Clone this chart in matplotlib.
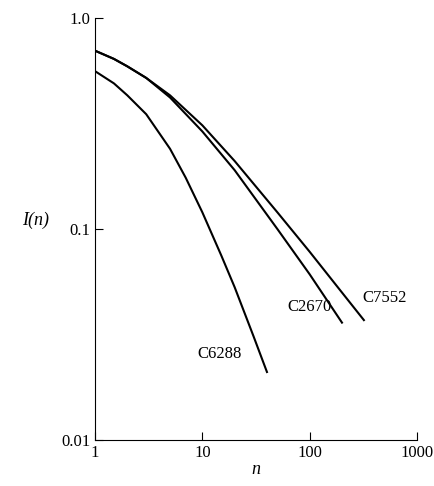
import numpy as np
import matplotlib.pyplot as plt

plt.rcParams['font.family'] = 'Liberation Serif'

n_6288 = [1, 1.5, 2, 3, 5, 7, 10, 15, 20, 30, 40]
i_6288 = [0.56, 0.49, 0.43, 0.35, 0.24, 0.175, 0.12, 0.075, 0.053, 0.031, 0.021]
n_2670 = [1, 1.5, 2, 3, 5, 10, 20, 50, 100, 200]
i_2670 = [0.70, 0.64, 0.59, 0.52, 0.42, 0.29, 0.19, 0.10, 0.061, 0.036]
n_7552 = [1, 1.5, 2, 3, 5, 10, 20, 50, 100, 200, 320]
i_7552 = [0.70, 0.64, 0.59, 0.52, 0.43, 0.31, 0.21, 0.12, 0.078, 0.05, 0.037]

fig = plt.figure(figsize=(4.34, 4.86), dpi=100)
ax = fig.add_axes([95/434, 46/486, 322/434, 422/486])
for n, i in [(n_6288, i_6288), (n_2670, i_2670), (n_7552, i_7552)]:
    ax.plot(n, i, color='black', lw=1.5)
ax.set_xscale('log')
ax.set_yscale('log')
ax.set_xlim(1, 1000)
ax.set_ylim(0.01, 1.0)
ax.set_xticks([1, 10, 100, 1000])
ax.set_xticklabels(['1', '10', '100', '1000'])
ax.set_yticks([0.01, 0.1, 1.0])
ax.set_yticklabels(['0.01', '0.1', '1.0'])
ax.minorticks_off()
ax.tick_params(labelsize=12, length=6, direction='in')
ax.spines['top'].set_visible(False)
ax.spines['right'].set_visible(False)
ax.set_xlabel('n', style='italic', fontsize=13, labelpad=0)
ax.set_ylabel('I(n)', style='italic', fontsize=13, rotation=0, labelpad=18)
ax.text(8.9, 0.0245, 'C6288', fontsize=12)
ax.text(62, 0.041, 'C2670', fontsize=12)
ax.text(310, 0.045, 'C7552', fontsize=12)
fig.savefig('out.png')
